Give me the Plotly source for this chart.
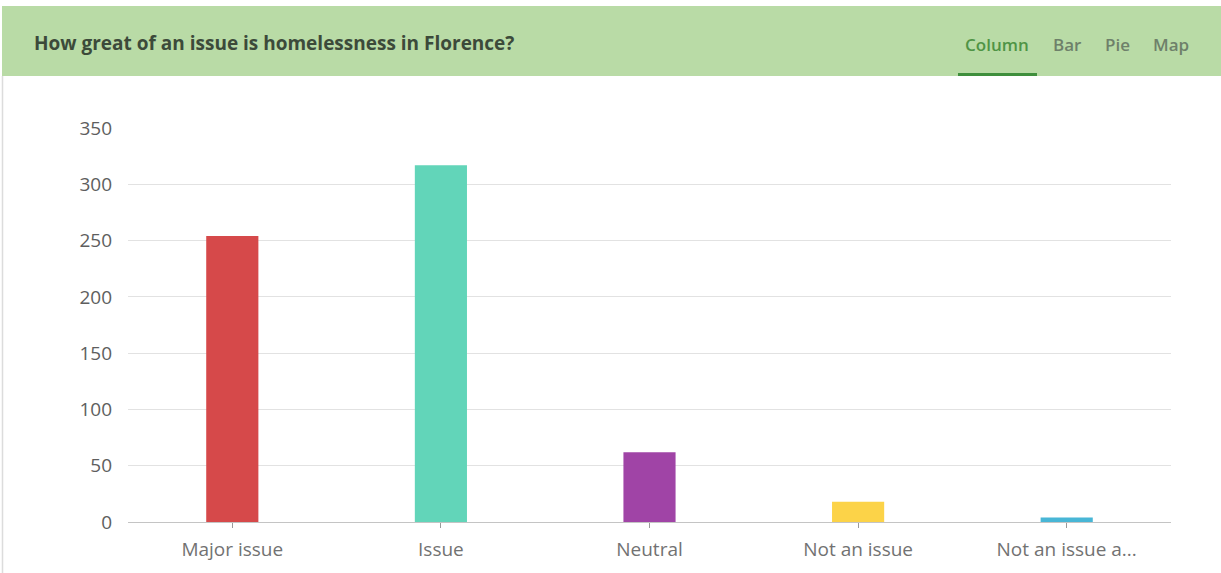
import plotly.graph_objects as go

# Survey responses
categories = ["Major issue", "Issue", "Neutral", "Not an issue", "Not an issue a..."]
counts = [254, 317, 62, 18, 4]
bar_colors = ["#d6494a", "#62d5b9", "#a044a6", "#fcd348", "#48b6d6"]
y_ticks = [0, 50, 100, 150, 200, 250, 300, 350]

title_text = "How great of an issue is homelessness in Florence?"
tabs = ["Column", "Bar", "Pie", "Map"]
tab_centers_px = [997, 1067, 1117, 1171]

FIG_W, FIG_H = 1221, 573
L, R, T, B = 128, 50, 128, 51
PW = FIG_W - L - R
PH = FIG_H - T - B


def px_x(x):
    return (x - L) / PW


def px_y(y):
    return (FIG_H - B - y) / PH


fig = go.Figure(
    go.Bar(
        x=categories,
        y=counts,
        marker=dict(color=bar_colors, line=dict(width=0)),
        width=0.25,
        hoverinfo="skip",
    )
)

shapes = [
    # header band
    dict(type="rect", xref="paper", yref="paper",
         x0=px_x(2), x1=px_x(FIG_W), y0=px_y(76), y1=px_y(6),
         fillcolor="#b9dba6", line=dict(width=0), layer="below"),
    # active tab underline
    dict(type="rect", xref="paper", yref="paper",
         x0=px_x(958), x1=px_x(1037), y0=px_y(76), y1=px_y(73),
         fillcolor="#3f8f3c", line=dict(width=0)),
    # left panel border
    dict(type="line", xref="paper", yref="paper",
         x0=px_x(2.5), x1=px_x(2.5), y0=px_y(FIG_H), y1=px_y(76),
         line=dict(color="#dcdcdc", width=1.5)),
]

annotations = [
    dict(text=title_text, xref="paper", yref="paper",
         x=px_x(32), y=px_y(43), xanchor="left", yanchor="middle",
         showarrow=False,
         font=dict(family="Open Sans", size=19, weight=700, color="#3c4a3a")),
]
for name, cx in zip(tabs, tab_centers_px):
    active = name == "Column"
    annotations.append(dict(
        text=name, xref="paper", yref="paper",
        x=px_x(cx), y=px_y(44), xanchor="center", yanchor="middle",
        showarrow=False,
        font=dict(family="Open Sans", size=17, weight=600,
                  color="#4f9445" if active else "#6e806a"),
    ))

fig.update_layout(
    width=FIG_W, height=FIG_H,
    margin=dict(l=L, r=R, t=T, b=B, pad=0),
    paper_bgcolor="white", plot_bgcolor="white",
    showlegend=False,
    bargap=0.75,
    shapes=shapes,
    annotations=annotations,
    xaxis=dict(
        showgrid=False, showline=True, linecolor="#c4c4c4", linewidth=1,
        ticks="outside", ticklen=5, tickcolor="#9a9a9a", tickwidth=1,
        ticklabelstandoff=5,
        tickfont=dict(family="Open Sans", size=19, color="#727272"),
        fixedrange=True,
    ),
    yaxis=dict(
        range=[0, 350], tickvals=y_ticks, showgrid=True,
        gridcolor="#e2e2e2", gridwidth=1, zeroline=False, showline=False,
        ticks="", ticklabelstandoff=15,
        tickfont=dict(family="Open Sans", size=19, color="#5e5e5e"),
        fixedrange=True,
    ),
)

fig.write_html("out.html", config={"displayModeBar": False})
